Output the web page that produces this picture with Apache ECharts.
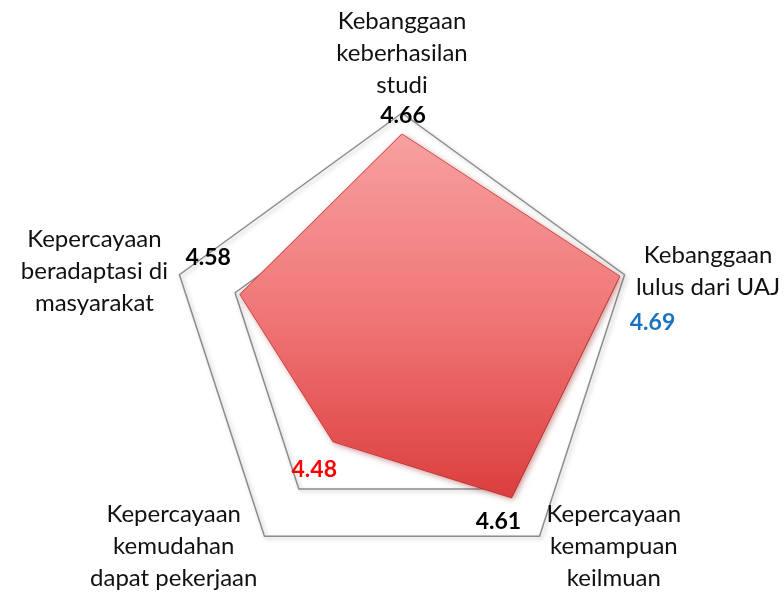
<!DOCTYPE html>
<html>
<head>
<meta charset="utf-8">
<script src="https://cdn.jsdelivr.net/npm/echarts@6/dist/echarts.min.js"></script>
<style>
  html, body { margin: 0; padding: 0; background: #fff; }
  #chart { width: 784px; height: 593px; }
</style>
</head>
<body>
<div id="chart"></div>
<script>
// indicators go counter-clockwise from the top in echarts
const names = [
  'Kebanggaan\nkeberhasilan\nstudi',
  'Kepercayaan\nberadaptasi di\nmasyarakat',
  'Kepercayaan\nkemudahan\ndapat pekerjaan',
  'Kepercayaan\nkemampuan\nkeilmuan',
  'Kebanggaan\nlulus dari UAJ'
];
const values = [4.66, 4.58, 4.48, 4.61, 4.69];
const axisMin = 4.26;
const axisMax = 4.7;

// value label colours and nudges (px) from each point
const labelColors = ['#000', '#000', '#ff0000', '#000', '#1a73c2'];
const labelShift = [[1, -19], [-32, -37], [-19, 28], [-13, 24], [33, 46]];

const chart = echarts.init(document.getElementById('chart'));

const option = {
  animation: false,
  radar: {
    center: [402, 347],
    radius: 234,
    splitNumber: 4,
    indicator: names.map(n => ({ name: n, min: axisMin, max: axisMax })),
    nameGap: 12,
    axisName: {
      formatter: function (name) {
        return name.split('\n').map(s => '{c|' + s + '}').join('\n');
      },
      rich: {
        c: {
          align: 'center',
          fontFamily: 'Lato',
          fontSize: 24,
          lineHeight: 32,
          color: '#111'
        }
      }
    },
    axisLine: { show: false },
    axisTick: { show: false },
    axisLabel: { show: false },
    splitArea: { show: false },
    splitLine: {
      lineStyle: {
        color: ['none', 'none', 'none', '#8c8c8c', '#8c8c8c'],
        width: 1.5,
        shadowColor: 'rgba(0,0,0,0.25)',
        shadowBlur: 4,
        shadowOffsetX: 2,
        shadowOffsetY: 2
      }
    }
  },
  series: [
    {
      type: 'radar',
      symbol: 'circle',
      symbolSize: 1,
      itemStyle: { color: 'rgba(0,0,0,0)' },
      lineStyle: { color: '#d03c3c', width: 1.5 },
      areaStyle: {
        opacity: 1,
        color: new echarts.graphic.LinearGradient(0, 0, 0, 1, [
          { offset: 0, color: '#f8a0a0' },
          { offset: 0.5, color: '#f07676' },
          { offset: 1, color: '#dc3e3e' }
        ]),
        shadowColor: 'rgba(140,20,20,0.5)',
        shadowBlur: 6,
        shadowOffsetX: 2,
        shadowOffsetY: 2
      },
      label: {
        show: true,
        position: 'inside',
        formatter: function (p) {
          const i = values.indexOf(p.value);
          return '{v' + i + '|' + p.value.toFixed(2) + '}';
        },
        rich: Object.fromEntries(labelColors.map((c, i) => ['v' + i, {
          color: c,
          fontFamily: 'Lato',
          fontWeight: 'bold',
          fontSize: 23
        }]))
      },
      labelLayout: function (p) {
        const m = String(p.text).match(/\d+\.\d+/);
        const i = m ? values.indexOf(parseFloat(m[0])) : -1;
        if (i < 0) return {};
        return { dx: labelShift[i][0], dy: labelShift[i][1] };
      },
      data: [{ value: values, name: 'Skor' }]
    }
  ]
};

chart.setOption(option);

window.addEventListener('resize', function () {
  chart.resize();
});
</script>
</body>
</html>
